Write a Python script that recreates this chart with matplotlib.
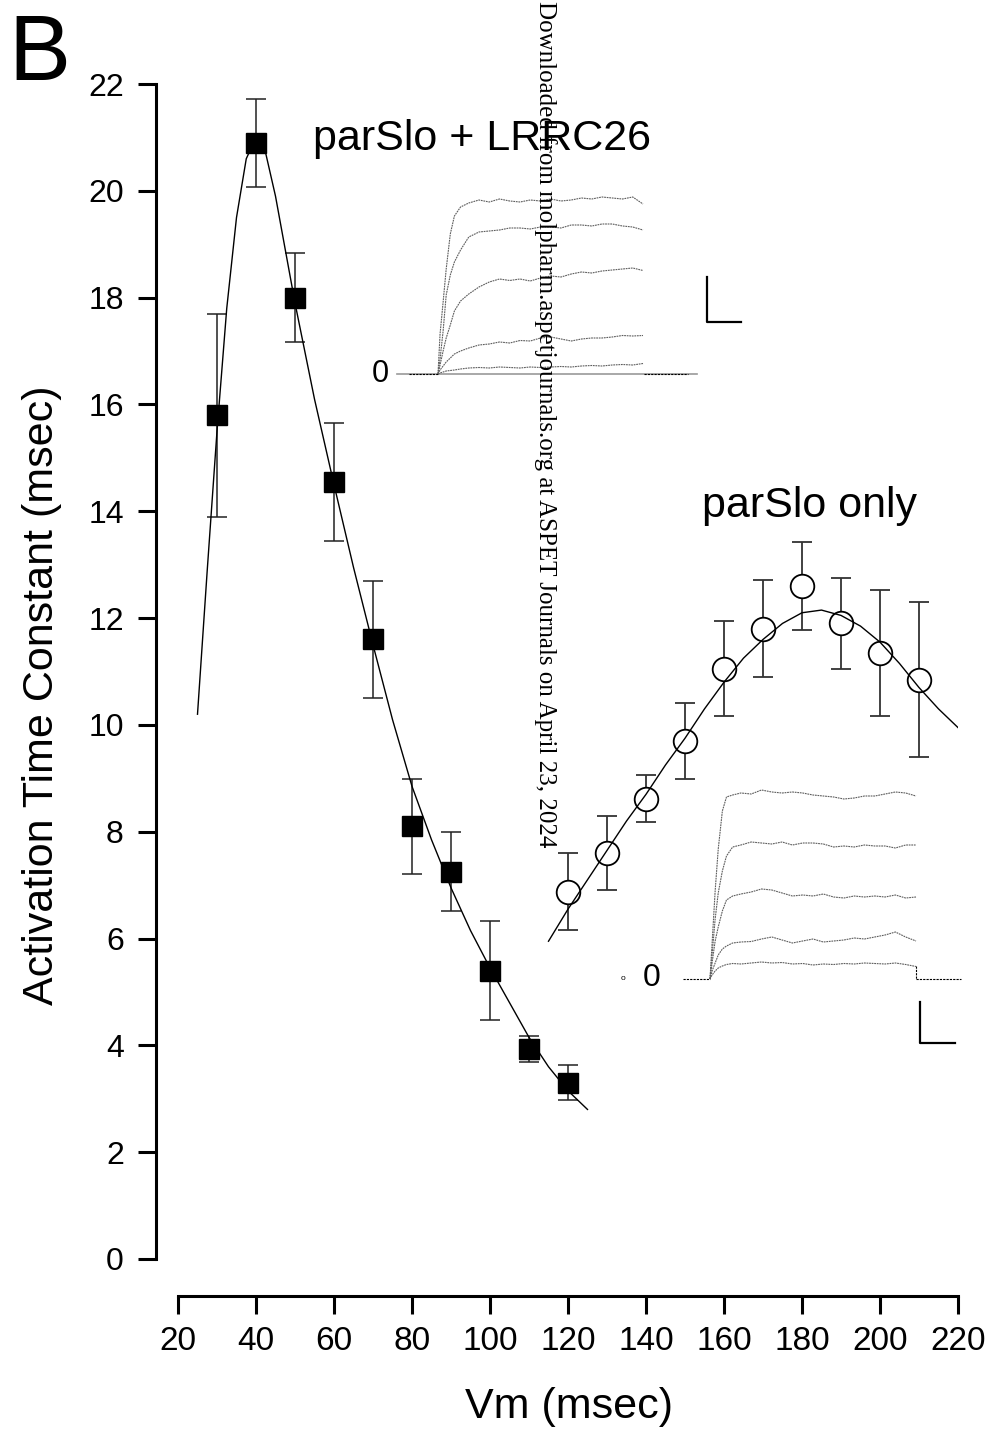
import numpy as np
import matplotlib
matplotlib.use("Agg")
import matplotlib.pyplot as plt

plt.rcParams['font.family'] = ['Liberation Sans', 'DejaVu Sans']

# parSlo + LRRC26 (filled squares)
sq_vm = [30, 40, 50, 60, 70, 80, 90, 100, 110, 120]
sq_tau = [15.8, 20.9, 18.0, 14.55, 11.6, 8.1, 7.25, 5.4, 3.93, 3.3]
sq_err = [1.9, 0.82, 0.84, 1.1, 1.1, 0.89, 0.74, 0.92, 0.25, 0.33]

# parSlo only (open circles)
ci_vm = [120, 130, 140, 150, 160, 170, 180, 190, 200, 210]
ci_tau = [6.88, 7.6, 8.62, 9.7, 11.05, 11.8, 12.6, 11.9, 11.35, 10.85]
ci_err = [0.72, 0.70, 0.44, 0.71, 0.89, 0.91, 0.82, 0.86, 1.18, 1.46]

# fitted curves
sq_fit_vm = [25, 27.5, 30, 32.5, 35, 37.5, 40, 42.5, 45, 47.5, 50, 55, 60, 65,
             70, 75, 80, 85, 90, 95, 100, 105, 110, 115, 120, 125]
sq_fit_tau = [10.2, 12.9, 15.5, 17.8, 19.5, 20.6, 21.0, 20.7, 19.9, 18.9, 17.9,
              16.1, 14.5, 12.95, 11.5, 10.1, 8.85, 7.85, 6.95, 6.15, 5.45,
              4.8, 4.15, 3.6, 3.15, 2.8]
ci_fit_vm = [115, 120, 125, 130, 135, 140, 145, 150, 155, 160, 165, 170, 175,
             180, 185, 190, 195, 200, 205, 210, 215, 220]
ci_fit_tau = [5.95, 6.55, 7.1, 7.65, 8.2, 8.7, 9.25, 9.75, 10.3, 10.8, 11.25,
              11.6, 11.9, 12.1, 12.15, 12.05, 11.85, 11.55, 11.15, 10.7, 10.3, 9.95]

# current traces in the insets (time in ms, current in arbitrary units)
tr_t = [0, 1, 2.5, 4, 6, 8, 11, 15, 20, 25, 30, 35, 40, 45, 50, 55, 60, 65,
        70, 75, 80, 85, 90, 95, 100]
top_traces = [
    [0, 4.0, 7.2, 10.5, 14.0, 15.8, 16.7, 17.1, 17.4, 17.2, 17.5, 17.3, 17.2,
     17.4, 17.3, 17.5, 17.3, 17.4, 17.6, 17.5, 17.7, 17.6, 17.5, 17.7, 17.0],
    [0, 1.5, 4.3, 7.9, 9.9, 11.2, 12.4, 13.7, 14.2, 14.3, 14.4, 14.6, 14.6,
     14.5, 14.7, 14.7, 14.6, 14.9, 14.9, 14.8, 15.0, 15.0, 14.8, 14.7, 14.4],
    [0, 0.9, 2.3, 3.6, 4.9, 6.3, 7.3, 8.0, 8.7, 9.2, 9.5, 9.35, 9.5, 9.3, 9.6,
     9.8, 9.7, 10.0, 10.2, 10.1, 10.3, 10.4, 10.5, 10.6, 10.35],
    [0, 0.4, 0.8, 1.2, 1.6, 2.0, 2.3, 2.6, 2.9, 3.0, 3.2, 3.1, 3.35, 3.3, 3.6,
     3.7, 3.5, 3.3, 3.5, 3.6, 3.6, 3.7, 3.85, 3.8, 3.85],
    [0, 0.1, 0.2, 0.3, 0.35, 0.4, 0.5, 0.6, 0.65, 0.6, 0.7, 0.65, 0.6, 0.7,
     0.65, 0.7, 0.75, 0.7, 0.8, 0.85, 0.8, 0.9, 0.95, 0.9, 1.05],
]
bot_traces = [
    [0, 3.5, 8.8, 13.0, 16.8, 18.2, 18.4, 18.6, 18.5, 18.9, 18.7, 18.6, 18.7,
     18.6, 18.4, 18.3, 18.2, 18.0, 18.1, 18.3, 18.3, 18.5, 18.7, 18.6, 18.3],
    [0, 2.4, 6.0, 8.6, 10.8, 12.3, 13.2, 13.4, 13.7, 13.6, 13.5, 13.7, 13.4,
     13.6, 13.6, 13.5, 13.2, 13.3, 13.2, 13.4, 13.3, 13.3, 13.1, 13.4, 13.4],
    [0, 1.6, 3.8, 5.2, 6.8, 7.9, 8.3, 8.5, 8.7, 9.0, 8.9, 8.6, 8.3, 8.4, 8.3,
     8.5, 8.2, 8.1, 8.3, 8.2, 8.3, 8.2, 8.4, 8.1, 8.2],
    [0, 0.8, 1.6, 2.4, 3.0, 3.3, 3.6, 3.7, 3.75, 4.0, 4.2, 3.9, 3.6, 3.8, 4.0,
     3.7, 3.8, 3.9, 4.1, 4.0, 4.2, 4.4, 4.7, 4.2, 3.8],
    [0, 0.4, 0.8, 1.1, 1.3, 1.45, 1.55, 1.5, 1.6, 1.7, 1.6, 1.65, 1.5, 1.55,
     1.4, 1.5, 1.45, 1.55, 1.5, 1.6, 1.55, 1.5, 1.6, 1.45, 1.25],
]

W, H = 991, 1431
fig = plt.figure(figsize=(W / 100, H / 100), dpi=100)


def px_axes(x0, x1, y_top, y_bot):
    # axes placed by pixel edges of the figure
    return fig.add_axes([x0 / W, 1 - y_bot / H, (x1 - x0) / W, (y_bot - y_top) / H])


ax = px_axes(178, 958, 84, 1259)
ax.set_xlim(20, 220)
ax.set_ylim(0, 22)
for s in ['top', 'right']:
    ax.spines[s].set_visible(False)
ax.spines['left'].set_position(('outward', 16.0))
ax.spines['bottom'].set_position(('outward', 26.6))
for s in ['left', 'bottom']:
    ax.spines[s].set_linewidth(2.2)
ax.set_xticks(range(20, 221, 20))
ax.set_yticks(range(0, 23, 2))
ax.tick_params(axis='both', direction='out', length=13, width=2.2)
ax.tick_params(axis='y', pad=10, labelsize=23)
ax.tick_params(axis='x', pad=9, labelsize=24)

# error bars, markers, then fit curves
ax.errorbar(sq_vm, sq_tau, yerr=sq_err, fmt='none', ecolor='#222222',
            elinewidth=1.1, capsize=7, capthick=1.1, zorder=2)
ax.plot(sq_vm, sq_tau, 's', color='black', markersize=15, zorder=3)
ax.plot(sq_fit_vm, sq_fit_tau, color='black', lw=1.0, zorder=4)

ax.errorbar(ci_vm, ci_tau, yerr=ci_err, fmt='none', ecolor='#333333',
            elinewidth=1.3, capsize=7, capthick=1.3, zorder=2)
ax.plot(ci_vm, ci_tau, 'o', markerfacecolor='white', markeredgecolor='black',
        markeredgewidth=1.3, markersize=17, zorder=3)
ax.plot(ci_fit_vm, ci_fit_tau, color='black', lw=1.0, zorder=4)

ax.text(54.6, 20.77, 'parSlo + LRRC26', fontsize=31, va='baseline')
ax.text(154.4, 13.9, 'parSlo only', fontsize=31, va='baseline')

fig.text(42 / W, 1 - 695 / H, 'Activation Time Constant (msec)', fontsize=31,
         rotation=90, ha='center', va='center')
fig.text(569 / W, 1 - 1407 / H, 'Vm (msec)', fontsize=31, ha='center', va='center')
fig.text(8 / W, 1 - 80 / H, 'B', fontsize=67, ha='left', va='baseline')

trace_color = '#5e5e5e'
trace_ls = (0, (1.6, 0.7))

# top inset: parSlo + LRRC26 currents
ins1 = px_axes(366.25, 745.5, 174, 404)
ins1.set_xlim(-35, 150)
ins1.set_ylim(-3, 20)
ins1.axis('off')
ins1.patch.set_alpha(0)
ins1.plot([-20, 126.3], [0, 0], color='#999999', lw=1.2)
ins1.plot([-14, 0], [0, 0], color='black', lw=0.8, ls=(0, (2, 1)))
ins1.plot([100.5, 122], [0, 0], color='black', lw=0.8, ls=(0, (2, 1)))
for tr in top_traces:
    ins1.plot(tr_t, tr, color=trace_color, lw=0.8, ls=trace_ls)
ins1.plot([131.2, 131.2, 147.8], [9.7, 5.2, 5.2], color='black', lw=1.6)
ins1.text(-28.3, 0, '0', fontsize=22, ha='center', va='center')

# bottom inset: parSlo only currents
ins2 = px_axes(607, 977.8, 779, 1059)
ins2.set_xlim(-50, 130)
ins2.set_ylim(-8, 20)
ins2.axis('off')
ins2.patch.set_alpha(0)
ins2.plot([-13, 0], [0, 0], color='black', lw=0.8, ls=(0, (2, 1)))
ins2.plot([100, 100], [1.3, 0], color='black', lw=0.8, ls=(0, (2, 1)))
ins2.plot([100, 122], [0, 0], color='black', lw=0.8, ls=(0, (2, 1)))
for tr in bot_traces:
    ins2.plot(tr_t, tr, color=trace_color, lw=0.8, ls=trace_ls)
ins2.plot([101.9, 101.9, 119], [-2.3, -6.4, -6.4], color='black', lw=1.6)
ins2.text(-28.2, 0.1, '0', fontsize=23, ha='center', va='center')
ins2.text(-42.2, 0.1, 'o', fontsize=6, ha='center', va='center')

fig.text(545 / W, 1 - 1 / H,
         'Downloaded from molpharm.aspetjournals.org at ASPET Journals on April 23, 2024',
         family=['Liberation Serif', 'DejaVu Serif'], fontsize=18, rotation=270,
         ha='center', va='top')

fig.savefig('out.png', dpi=100)
